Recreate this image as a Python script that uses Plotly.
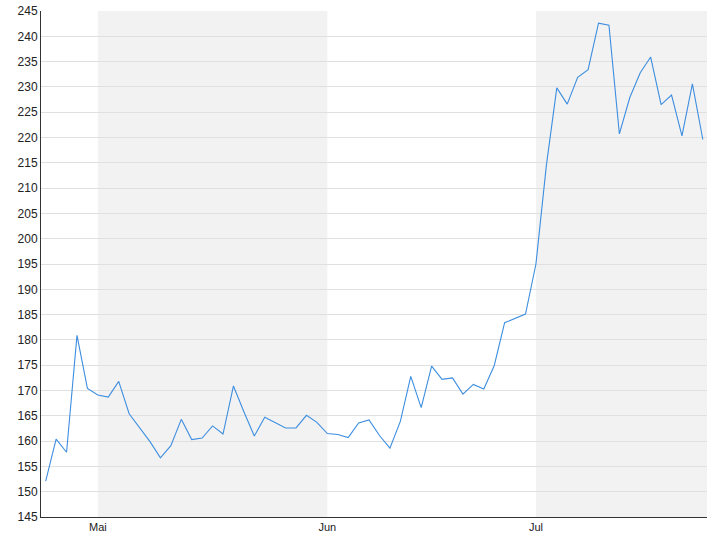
"""Share price, trading days Apr-Jul, month bands shaded."""
import pandas as pd
import plotly.graph_objects as go

# trading days (XETRA calendar, 1 May closed)
dates = [d.strftime("%Y-%m-%d") for d in pd.bdate_range("2024-04-24", "2024-07-23", freq="C", holidays=["2024-05-01"])]

prices = [
    152.1, 160.4, 157.8, 180.9, 170.4,
    169.1, 168.7, 171.8, 165.4, 162.6, 159.9, 156.7, 159.1, 164.3, 160.3, 160.6,
    163.0, 161.4, 170.9, 165.8, 161.0, 164.7, 163.6, 162.6, 162.6, 165.1, 163.7,
    161.5, 161.3, 160.7, 163.6, 164.2, 161.1, 158.6, 163.9, 172.8, 166.6, 174.8,
    172.2, 172.5, 169.3, 171.2, 170.3, 174.9, 183.4, 184.3, 185.1,
    195.0, 214.5, 229.8, 226.6, 231.9, 233.4, 242.6, 242.2, 220.7, 227.9, 232.8,
    235.9, 226.5, 228.4, 220.3, 230.6, 219.6,
]

month_starts = ["2024-05-02", "2024-06-03", "2024-07-01"]
month_labels = ["Mai", "Jun", "Jul"]

LINE_COLOR = "#3d8ee0"
BAND_COLOR = "#f2f2f2"

x_range = [-0.45, len(dates) - 1 + 0.4]

fig = go.Figure(
    go.Scatter(
        x=dates,
        y=prices,
        mode="lines",
        line=dict(color=LINE_COLOR, width=1.1),
        hovertemplate="%{x}: %{y:.2f}<extra></extra>",
    )
)

# grey bands for May and July
bands = [(month_starts[0], month_starts[1]), (month_starts[2], x_range[1])]
for x0, x1 in bands:
    fig.add_shape(
        type="rect",
        xref="x",
        yref="paper",
        x0=x0,
        x1=x1,
        y0=0,
        y1=1,
        fillcolor=BAND_COLOR,
        line_width=0,
        layer="below",
    )

fig.update_layout(
    width=720,
    height=540,
    margin=dict(l=41, r=13, t=11, b=23),
    paper_bgcolor="white",
    plot_bgcolor="white",
    showlegend=False,
    font=dict(family="Liberation Sans, Arial, sans-serif", size=12, color="#222"),
    xaxis=dict(
        type="category",
        range=x_range,
        tickmode="array",
        tickvals=month_starts,
        ticktext=month_labels,
        showgrid=False,
        showline=True,
        linecolor="#333",
        linewidth=1,
        ticks="",
        tickfont=dict(size=11),
        automargin=False,
    ),
    yaxis=dict(
        range=[145, 245],
        dtick=5,
        showgrid=True,
        gridcolor="#e0e0e0",
        gridwidth=1,
        showline=True,
        linecolor="#333",
        linewidth=1,
        zeroline=False,
        ticks="",
        tickfont=dict(size=12),
        automargin=False,
    ),
)

# page margin off so the 720x540 figure sits flush in the window
fig.write_html(
    "out.html",
    config={"displayModeBar": False},
    post_script="document.body.style.margin='0px';",
)
